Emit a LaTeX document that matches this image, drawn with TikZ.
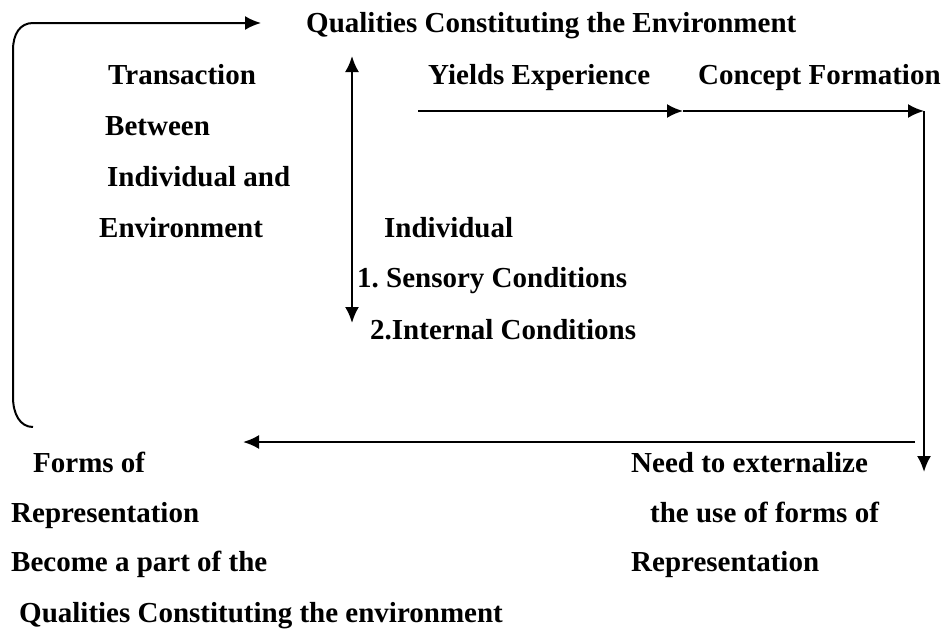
\documentclass[tikz,border=0pt]{standalone}
\usepackage{fontspec}
\setmainfont{Liberation Serif}
\usetikzlibrary{positioning,calc}
\usetikzlibrary{arrows.meta}
\frenchspacing
\tikzstyle{lbl} = [anchor=base west, inner sep=0pt, font=\fontsize{29}{34}\selectfont\bfseries]
\tikzstyle{arrow} = [line width=2.2pt,-{Latex[length=16pt,width=14pt]}]

\begin{document}
\begin{tikzpicture}[x=1pt,y=-1pt]
	\useasboundingbox (0,0) rectangle (944,629);
	% top row
	\node (qtop) at (306,32) [lbl] {Qualities Constituting the Environment};
	\node (yield) at (428,84) [lbl] {Yields Experience};
	\node (concept) at (698,84) [lbl] {Concept Formation};
	% left column
	\node (trans) at (108,84) [lbl] {Transaction};
	\node (betw) at (105,135) [lbl] {Between};
	\node (indand) at (107,186) [lbl] {Individual and};
	\node (env) at (99,237) [lbl] {Environment};
	% individual
	\node (indiv) at (384,237) [lbl] {Individual};
	\node (sens) at (357,287) [lbl] {1. Sensory Conditions};
	\node (intern) at (370,339) [lbl] {2.Internal Conditions};
	% bottom left
	\node (forms) at (33,472) [lbl] {Forms of};
	\node (repr) at (11,522) [lbl] {Representation};
	\node (become) at (11,571) [lbl] {Become a part of the};
	\node (qbot) at (19,622) [lbl] {Qualities Constituting the environment};
	% bottom right
	\node (need) at (631,472) [lbl] {Need to externalize};
	\node (use) at (650,522) [lbl] {the use of forms of};
	\node (repr2) at (631,571) [lbl] {Representation};

	% ends of the connectors
	\coordinate (loopend) at (33,427);
	\coordinate (looptip) at (261,23);
	\coordinate (vtop) at (352,56);
	\coordinate (vbot) at (352,323);
	\coordinate (ystart) at (418,111);
	\coordinate (ymid) at (683,111);
	\coordinate (yend) at (924,111);
	\coordinate (dnend) at (924,472);
	\coordinate (bstart) at (915,442);
	\coordinate (bend) at (243,442);

	\draw[line width=2pt,-{Latex[length=16pt,width=14pt]}] (loopend) .. controls (20,427) and (13,414) .. (13,397) -- (13,50) .. controls (13,34) and (20,23) .. (33,23) -- (looptip);
	\draw[arrow, {Latex[length=16pt,width=14pt]}-{Latex[length=16pt,width=14pt]}] (vbot) -- (vtop);
	\draw[arrow] (ystart) -- (ymid);
	\draw[arrow] (ymid) -- (yend);
	\draw[arrow] (yend) -- (dnend);
	\draw[arrow] (bstart) -- (bend);
\end{tikzpicture}
\end{document}
